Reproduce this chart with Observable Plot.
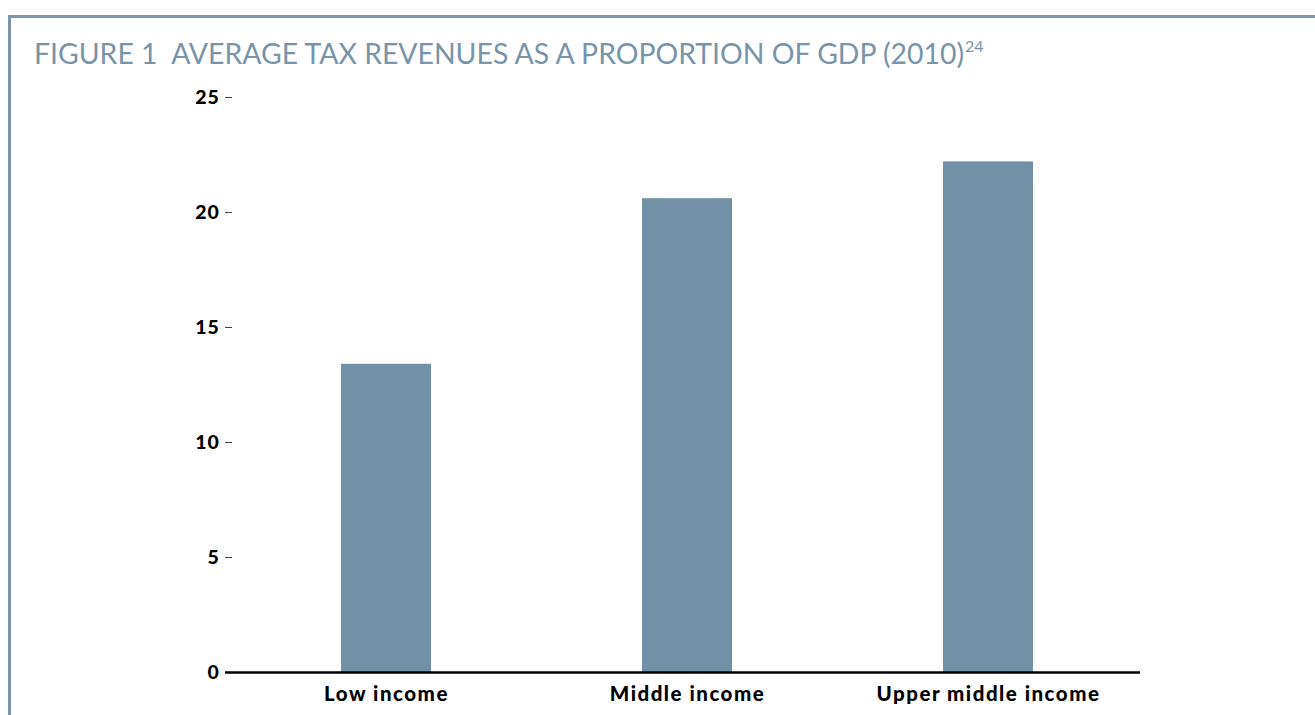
<!DOCTYPE html>
<html><head><meta charset="utf-8">
<script src="https://cdn.jsdelivr.net/npm/d3@7"></script>
<script src="https://cdn.jsdelivr.net/npm/@observablehq/plot@0.6"></script>
<style>
body{margin:0;background:#fff;overflow:hidden;}
#wrap{position:relative;width:1315px;height:715px;overflow:hidden;}
#frame{position:absolute;left:8px;top:15px;width:1400px;height:800px;border-top:3px solid #7d97aa;border-left:3px solid #7d97aa;}
#title{position:absolute;left:34px;top:39px;font-family:Lato, sans-serif;font-size:28.4px;color:#7894a9;white-space:nowrap;line-height:1;}
#title sup{font-size:16px;vertical-align:top;position:relative;top:-1px;margin-left:1px;}
#chart{position:absolute;left:0;top:80px;}
svg text{font-weight:900;}
svg .xlab text{letter-spacing:1.5px;font-size:20.5px;}
svg .ylab text{letter-spacing:0.8px;}
</style></head>
<body><div id="wrap"><div id="frame"></div><div id="title">FIGURE 1&nbsp; AVERAGE TAX REVENUES AS A PROPORTION OF GDP (2010)<sup>24</sup></div><div id="chart"></div></div>
<script>
const categories = ["Low income", "Middle income", "Upper middle income"];
const values = [13.4, 20.6, 22.2];
const yTicks = [0, 5, 10, 15, 20, 25];
const data = categories.map((c, i) => ({category: c, value: values[i]}));
const chart = Plot.plot({
  width: 1315, height: 635,
  marginTop: 17, marginBottom: 43, marginLeft: 225, marginRight: 175,
  style: {fontFamily: "Lato, sans-serif", fontSize: "19.5px", color: "#000", background: "transparent"},
  x: {domain: categories, paddingInner: 0.7, paddingOuter: 0.366, align: 0.52, label: null},
  y: {domain: [0, 25], label: null},
  marks: [
    Plot.barY(data, {x: "category", y: "value", fill: "#7291a6"}),
    Plot.axisY({ticks: yTicks, tickSize: 0, tickPadding: 6, label: null, className: "ylab"}),
    Plot.axisY({ticks: yTicks, tickSize: -7, tickFormat: () => "", label: null, stroke: "#444"}),
    Plot.axisX({tickSize: 0, tickPadding: 14, label: null, className: "xlab"}),
    Plot.ruleY([0], {stroke: "#000", strokeWidth: 2.5})
  ]
});
document.getElementById("chart").appendChild(chart);
</script>
</body></html>
